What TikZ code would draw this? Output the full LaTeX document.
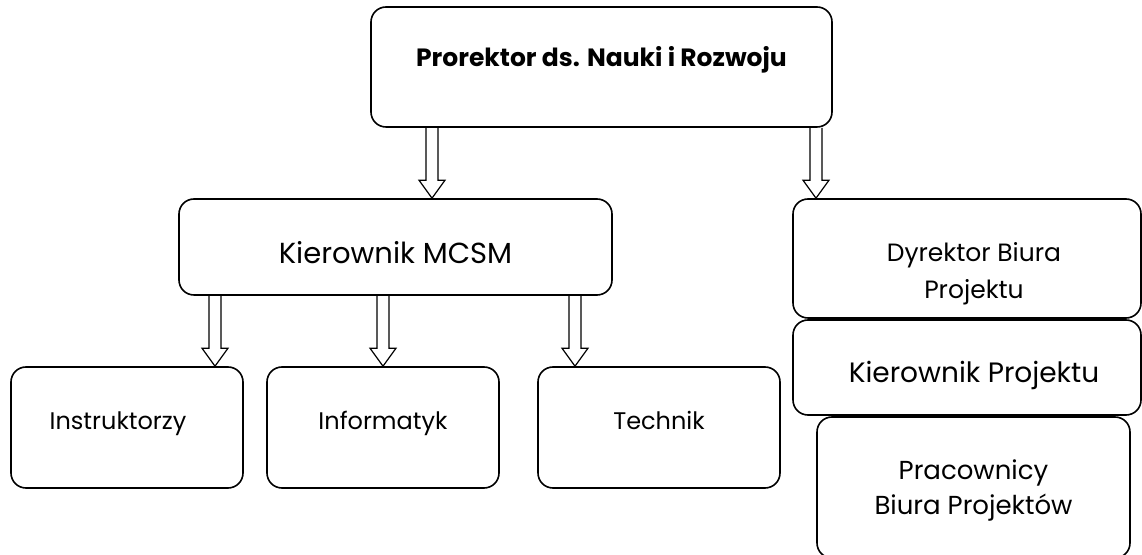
\documentclass[tikz,border=0pt]{standalone}
\usepackage{fontspec}
\setmainfont{Poppins}
\usetikzlibrary{calc}

\tikzset{
	box/.style = {draw, line width = 0.8pt, rounded corners = 7.5pt, align = center, inner sep = 0pt},
	hollow/.style = {line width = 0.6pt, line join = miter},
	low/.style = {text height = 6pt, text depth = 4.1pt, font = \fontsize{12}{18}\selectfont, minimum width = 116pt, minimum height = 60.5pt},
}

% double-lined arrow from one box down to the next, in column #3
\newcommand{\hollowarrow}[3]{
	\coordinate (ha-s) at (#1 -| #3);
	\coordinate (ha-e) at (#2 -| #3);
	\draw[hollow] ([xshift = -3pt]ha-s) -- ([xshift = -3pt, yshift = 9pt]ha-e) -- ([xshift = -6.5pt, yshift = 9pt]ha-e)
		-- (ha-e) -- ([xshift = 6.5pt, yshift = 9pt]ha-e) -- ([xshift = 3pt, yshift = 9pt]ha-e) -- ([xshift = 3pt]ha-s);
}

\begin{document}
\begin{tikzpicture}[x = 0.5pt, y = -0.5pt]
			\useasboundingbox (0,0) rectangle (1142,555);
			\clip (0,0) rectangle (1142,555);

			\node[box, minimum width = 230.5pt, minimum height = 60pt, text height = 5pt, text depth = 5.2pt,
				font = \bfseries\fontsize{12.5}{15}\selectfont] (prorektor) at (601.5,67) {Prorektor ds. Nauki i Rozwoju};

			\node[box, minimum width = 216.5pt, minimum height = 48pt, text height = 17.07pt, text depth = 0.93pt,
				font = \fontsize{14.5}{18}\selectfont] (mcsm) at (395.5,247) {Kierownik MCSM};
			\node[box, low] (instr) at (127,427.5) {Instruktorzy\hspace{9pt}};
			\node[box, low] (info) at (383,427.5) {Informatyk};
			\node[box, low, minimum width = 121pt] (tech) at (659,427.5) {Technik};

			\node[box, minimum width = 174pt, minimum height = 59.5pt, text height = 40.2pt, text depth = 0pt,
				font = \fontsize{12.5}{18.5}\selectfont] (dyr) at (967,258.5) {\hspace*{7pt}Dyrektor Biura\\\hspace*{7pt}Projektu};
			\node[box, minimum width = 174pt, minimum height = 47.5pt, text height = 16.65pt, text depth = 1.35pt,
				font = \fontsize{14}{18}\selectfont] (kp) at (967,367.5) {\hspace*{7pt}Kierownik Projektu};
			\node[box, minimum width = 156.5pt, minimum height = 70.5pt, text height = 26.6pt, text depth = 0pt,
				font = \fontsize{13}{17.5}\selectfont] (prac) at (973.5,487.5) {Pracownicy\\Biura Projektów};

			\coordinate (c1) at (432,0);
			\coordinate (c2) at (816,0);
			\coordinate (c3) at (215,0);
			\coordinate (c4) at (383,0);
			\coordinate (c5) at (575,0);

			\hollowarrow{prorektor.south}{mcsm.north}{c1}
			\hollowarrow{prorektor.south}{dyr.north}{c2}
			\hollowarrow{mcsm.south}{instr.north}{c3}
			\hollowarrow{mcsm.south}{info.north}{c4}
			\hollowarrow{mcsm.south}{tech.north}{c5}
		\end{tikzpicture}
\end{document}
